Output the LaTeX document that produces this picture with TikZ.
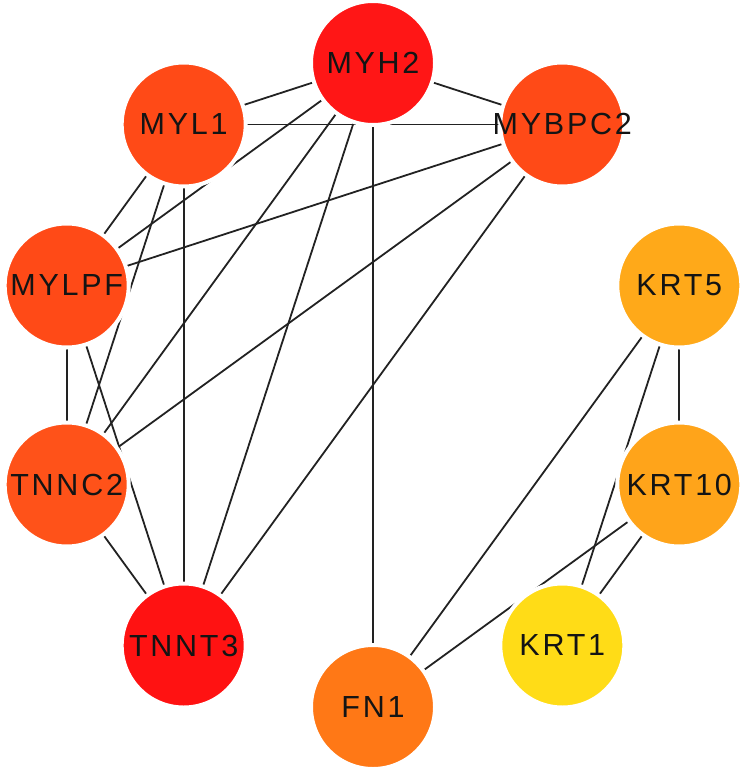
\documentclass[tikz,border=0pt]{standalone}
\usepackage{fontspec}
\setmainfont{Liberation Sans}
\usetikzlibrary{backgrounds}
\definecolor{cRed}{HTML}{FF1616}
\definecolor{cRedB}{HTML}{FF1212}
\definecolor{cOrR}{HTML}{FF4A17}
\definecolor{cOrR2}{HTML}{FF5219}
\definecolor{cOr}{HTML}{FF7816}
\definecolor{cAmb}{HTML}{FFA919}
\definecolor{cAmb2}{HTML}{FFA41A}
\definecolor{cYel}{HTML}{FFDC17}
\definecolor{edgecol}{HTML}{222222}
\newcommand{\glabel}[1]{\makebox[0pt][c]{#1}}
\begin{document}
\begin{tikzpicture}[x=1pt,y=-1pt,
  gene/.style={circle,minimum size=124pt,inner sep=0pt,draw=white,line width=4pt,
    font={\fontsize{30.5}{36}\selectfont\addfontfeature{LetterSpace=9}},text=black!92},
  link/.style={draw=edgecol,line width=1.8pt}]
\useasboundingbox (0,0) rectangle (744,775);
\node[gene,fill=cRed]   (MYH2)   at (373,63)       {\glabel{MYH2}};
\node[gene,fill=cOrR]   (MYBPC2) at (562.3,124.5)  {\glabel{MYBPC2}};
\node[gene,fill=cAmb]   (KRT5)   at (679.3,285.5)  {\glabel{KRT5}};
\node[gene,fill=cAmb2]  (KRT10)  at (679.3,484.5)  {\glabel{KRT10}};
\node[gene,fill=cYel]   (KRT1)   at (562.3,645.5)  {\glabel{KRT1}};
\node[gene,fill=cOr]    (FN1)    at (373,707)      {\glabel{FN1}};
\node[gene,fill=cRedB]  (TNNT3)  at (183.7,645.5)  {\glabel{TNNT3}};
\node[gene,fill=cOrR2]  (TNNC2)  at (66.7,484.5)   {\glabel{TNNC2}};
\node[gene,fill=cOrR]   (MYLPF)  at (66.7,285.5)   {\glabel{MYLPF}};
\node[gene,fill=cOrR]   (MYL1)   at (183.7,124.5)  {\glabel{MYL1}};
\begin{pgfonlayer}{background}
\foreach \a/\b in {MYH2/MYL1,MYH2/MYBPC2,MYH2/FN1,MYH2/MYLPF,MYH2/TNNC2,MYH2/TNNT3,
  MYL1/MYBPC2,MYL1/MYLPF,MYL1/TNNC2,MYL1/TNNT3,
  MYBPC2/MYLPF,MYBPC2/TNNC2,MYBPC2/TNNT3,
  MYLPF/TNNC2,MYLPF/TNNT3,TNNC2/TNNT3,
  KRT5/KRT10,KRT5/FN1,KRT5/KRT1,KRT10/FN1,KRT10/KRT1}
  \draw[link] (\a.center) -- (\b.center);
\end{pgfonlayer}
\end{tikzpicture}
\end{document}
